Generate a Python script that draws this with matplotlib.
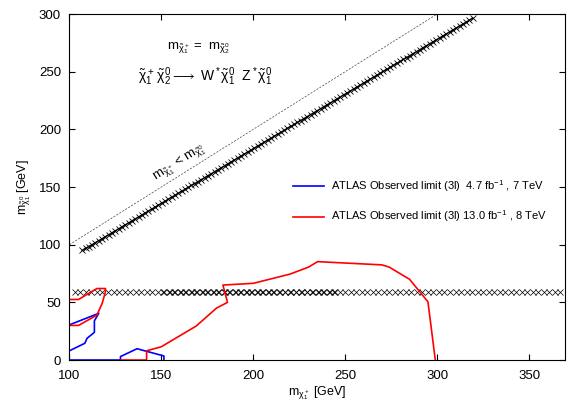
import numpy as np
import matplotlib.pyplot as plt

plt.rcParams['font.family'] = ['Liberation Sans', 'DejaVu Sans']
plt.rcParams['mathtext.fontset'] = 'custom'
plt.rcParams['mathtext.rm'] = 'Liberation Sans'
plt.rcParams['mathtext.it'] = 'Liberation Sans'

# scan points (chargino mass, neutralino mass)
diag_mc = np.arange(107, 321, 1.8)
diag_mn = 95 + (diag_mc - 107) * (297 - 95) / (320 - 107)
row_mc = np.arange(103, 368, 3.0)
row_mn = np.full_like(row_mc, 59.0)
row2_mc = np.arange(151.5, 246, 3.0)
row2_mn = np.full_like(row2_mc, 59.0)

# kinematic boundary m_chi1+ = m_chi10
bound_x = [100, 300]
bound_y = [100, 300]

# ATLAS 7 TeV observed limit (blue)
blue_a_x = [100, 116, 113.6, 113.6, 109.6, 108.4, 100]
blue_a_y = [30.5, 40.5, 34, 24, 18.8, 14.5, 8]
blue_b_x = [100, 127.8, 127.8, 136.8, 151.4, 151.4]
blue_b_y = [0, 0, 3, 9.8, 3.5, 0]

# ATLAS 8 TeV observed limit (red)
red_a_x = [100, 105, 115, 117.8, 119.6, 119.6, 115, 105, 100]
red_a_y = [30, 30, 39, 49, 59, 62, 62, 52.5, 52.5]
red_b_x = [128, 142, 142, 150, 169, 180, 186, 183.5, 200, 220, 230, 235,
           270, 274, 285, 295, 299]
red_b_y = [0, 0, 8, 11.5, 29.5, 45, 50, 65, 66.5, 74.5, 80.5, 85.3,
           82.5, 80.5, 70, 50.5, 0]

fig = plt.figure(figsize=(5.83, 4.08), dpi=100)
ax = fig.add_axes([0.119, 0.1176, 0.85, 0.848])

ax.plot(bound_x, bound_y, color='#444444', linestyle='--', linewidth=0.5,
        dashes=(3, 2))
ax.plot(diag_mc, diag_mn, color='black', linewidth=1.0, marker='x',
        markersize=4, markeredgewidth=0.6)
ax.plot(row_mc, row_mn, linestyle='none', color='black', marker='x',
        markersize=5, markeredgewidth=0.5)
ax.plot(row2_mc, row2_mn, linestyle='none', color='black', marker='x',
        markersize=5, markeredgewidth=0.5)

ax.plot(blue_a_x, blue_a_y, color='blue', linewidth=1.2)
ax.plot(blue_b_x, blue_b_y, color='blue', linewidth=1.2,
        label=r'ATLAS Observed limit (3l)  4.7 fb$^{-1}$ , 7 TeV')
ax.plot(red_a_x, red_a_y, color='red', linewidth=1.2)
ax.plot(red_b_x, red_b_y, color='red', linewidth=1.2,
        label=r'ATLAS Observed limit (3l) 13.0 fb$^{-1}$ , 8 TeV')

ax.set_xlim(100, 369.5)
ax.set_ylim(0, 300)
ax.set_xticks([100, 150, 200, 250, 300, 350])
ax.set_yticks([0, 50, 100, 150, 200, 250, 300])
ax.tick_params(direction='in', top=True, right=True, labelsize=9.5,
               length=4, width=0.8)
ax.tick_params(axis='x', pad=7)
ax.tick_params(axis='y', pad=6)
ax.set_xlabel(r'm$_{\chi_1^+}$ [GeV]', fontsize=9, labelpad=2)
ax.set_ylabel(r'm$_{\tilde{\chi}_1^0}$ [GeV]', fontsize=9)

ax.text(170, 270.5, r'm$_{\tilde{\chi}_1^+}$ =  m$_{\tilde{\chi}_2^0}$',
        fontsize=9.5, ha='center', va='center')
ax.text(174, 246,
        r'$\tilde{\chi}_1^+\,\tilde{\chi}_2^0 \longrightarrow$ W$^*\tilde{\chi}_1^0$  Z$^*\tilde{\chi}_1^0$',
        fontsize=10, ha='center', va='center')
ax.text(160, 171, r'm$_{\tilde{\chi}_1^+}$ < m$_{\tilde{\chi}_1^0}$',
        fontsize=9.5, ha='center', va='center', rotation=32)

ax.legend(loc='upper left', bbox_to_anchor=(0.451, 0.525), frameon=False,
          fontsize=8, handlelength=2.8, handletextpad=0.6, labelspacing=1.3,
          borderpad=0, borderaxespad=0)

fig.savefig('out.png', dpi=100)
